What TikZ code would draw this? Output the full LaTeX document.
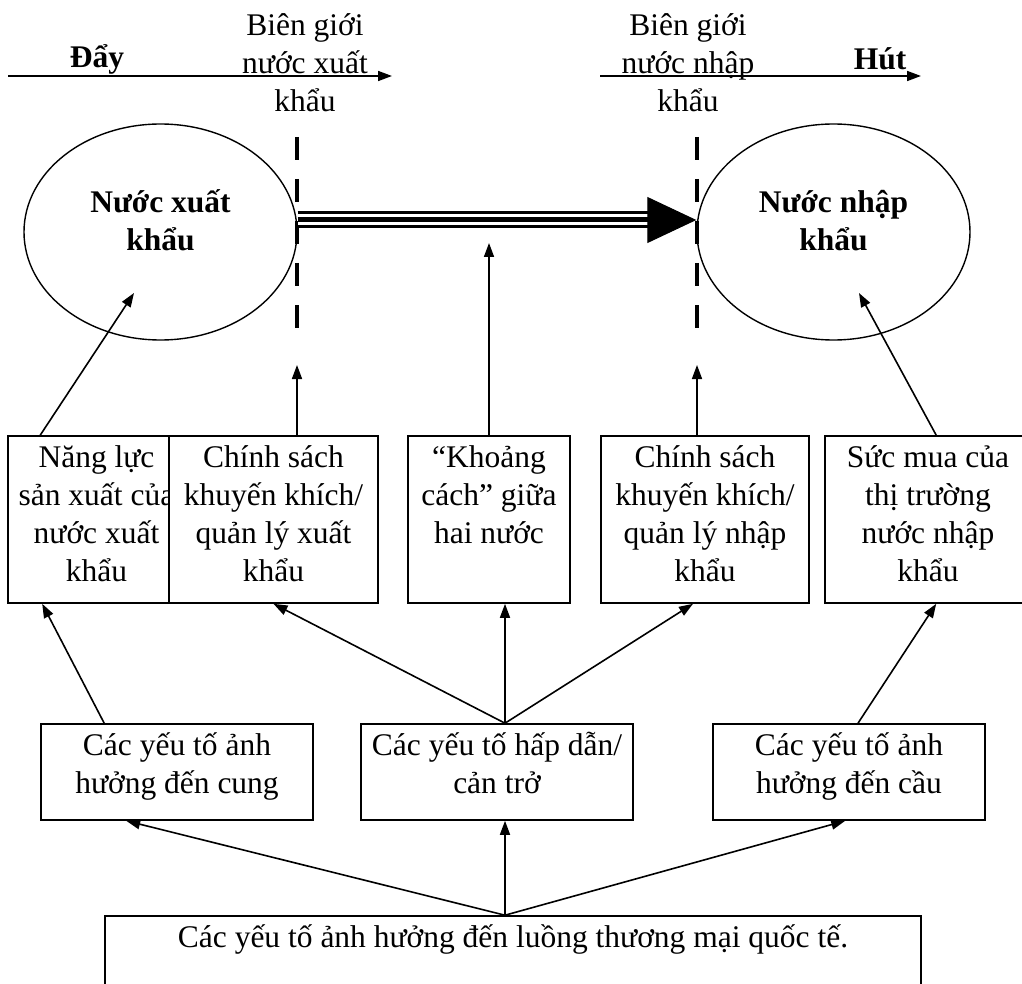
\documentclass[tikz,border=0pt]{standalone}
\usepackage{fontspec}
\setmainfont{Liberation Serif}
\usepackage{tikz}
\usetikzlibrary{positioning,shapes.geometric,arrows.meta,calc}
\newcommand{\cochu}{\fontsize{15.75pt}{19pt}\selectfont}
\newcommand{\noidung}[3]{\parbox[c][#2][t]{#1}{\centering\vspace*{2.4pt}\strut #3}}
\newcommand{\tennuoc}[1]{\raisebox{4pt}[\height][\depth]{\begin{tabular}{@{}c@{}}#1\end{tabular}}}
\tikzstyle{khung} = [rectangle, draw, fill=white, inner sep=0pt, line width=0.8pt]
\tikzstyle{nuoc} = [ellipse, draw, line width=0.7pt, minimum width=136.5pt, minimum height=108pt, font=\cochu\bfseries]
\tikzstyle{bien} = [line width=2pt, dash pattern=on 11.5pt off 9.5pt]
\tikzstyle{ba} = [line width=8.5pt, postaction={draw, line width=5.5pt, white}, postaction={draw, line width=2.5pt, black}]

\begin{document}
\begin{tikzpicture}[->,>={Triangle[length=7pt,width=5pt]},line width=0.8pt,x=0.5pt,y=-0.5pt,every node/.style={font=\cochu}]
  \useasboundingbox (0,0) rectangle (1022,984);

  % day - hut
  \coordinate (day_a) at (8,76);
  \coordinate (day_b) at (392,76);
  \coordinate (hut_a) at (600,76);
  \coordinate (hut_b) at (921,76);
  \node[font=\cochu\bfseries] (Day) at (97,59) {Đẩy};
  \node[font=\cochu\bfseries] (Hut) at (880,59) {Hút};
  \node[align=center] (BG_xk) at (305,63) {Biên giới\\nước xuất\\khẩu};
  \node[align=center] (BG_nk) at (688,63) {Biên giới\\nước nhập\\khẩu};
  \path (day_a) edge (day_b);
  \path (hut_a) edge (hut_b);

  % hai nuoc
  \node[nuoc] (XK) at (160.5,232) {\tennuoc{Nước xuất\\khẩu}};
  \node[nuoc] (NK) at (833.5,232) {\tennuoc{Nước nhập\\khẩu}};

  % bien gioi
  \coordinate (gx_t) at (297,137);
  \coordinate (gx_b) at (297,328);
  \coordinate (gn_t) at (697,137);
  \coordinate (gn_b) at (697,328);
  \draw[-,bien] (gx_t) -- (gx_b);
  \draw[-,bien] (gn_t) -- (gn_b);

  % luong hang
  \draw[-,ba] ([yshift=6pt]XK.east) -- ([xshift=-22pt,yshift=6pt]NK.west);
  \draw[-{Triangle[length=24.5pt,width=23pt]},line width=0.5pt] ([xshift=-24pt,yshift=6pt]NK.west) -- ([yshift=6pt]NK.west);

  % hang 1
  \node[khung] (NL) at (96.5,519.5) {\noidung{88.5pt}{83.5pt}{Năng lực\\sản xuất của\\nước xuất\\khẩu}};
  \node[khung] (CS_xk) at (273.5,519.5) {\noidung{104.5pt}{83.5pt}{Chính sách\\khuyến khích/\\quản lý xuất\\khẩu}};
  \node[khung] (KC) at (489,519.5) {\noidung{81pt}{83.5pt}{“Khoảng\\cách” giữa\\hai nước}};
  \node[khung] (CS_nk) at (705,519.5) {\noidung{104pt}{83.5pt}{Chính sách\\khuyến khích/\\quản lý nhập\\khẩu}};
  \node[khung] (SM) at (928,519.5) {\noidung{103pt}{83.5pt}{Sức mua của\\thị trường\\nước nhập\\khẩu}};

  % hang 2
  \node[khung] (YT_cung) at (177,772) {\noidung{136pt}{48pt}{Các yếu tố ảnh\\hưởng đến cung}};
  \node[khung] (YT_hd) at (497,772) {\noidung{136pt}{48pt}{Các yếu tố hấp dẫn/\\cản trở}};
  \node[khung] (YT_cau) at (849,772) {\noidung{136pt}{48pt}{Các yếu tố ảnh\\hưởng đến cầu}};

  % hang 3
  \node[khung] (YT_lt) at (513,963) {\noidung{408pt}{47pt}{Các yếu tố ảnh hưởng đến luồng thương mại quốc tế.}};

  % hang 1 -> tren
  \coordinate (gx_end) at (297,365);
  \coordinate (gn_end) at (697,365);
  \coordinate (kc_end) at (489,243);
  \path ($(NL.north west)+(33,0)$) edge ($(XK.center)+(-26.5,61)$);
  \path (gx_end |- CS_xk.north) edge (gx_end);
  \path (KC.north) edge (kc_end);
  \path (gn_end |- CS_nk.north) edge (gn_end);
  \path ($(SM.north west)+(112,0)$) edge ($(NK.center)+(25.5,61)$);

  % hang 2 -> hang 1
  \coordinate (hd_top) at ($(YT_hd.north)+(8,0)$);
  \path ($(YT_cung.north west)+(64,0)$) edge ($(NL.south west)+(35,0)$);
  \path (hd_top) edge (CS_xk.south);
  \path (hd_top) edge (hd_top |- KC.south);
  \path (hd_top) edge ($(CS_nk.south)+(-12,0)$);
  \path ($(YT_cau.north)+(9,0)$) edge ($(SM.south west)+(112,0)$);

  % hang 3 -> hang 2
  \coordinate (lt_top) at ($(YT_lt.north)+(-8,0)$);
  \path (lt_top) edge ($(YT_cung.south west)+(86,0)$);
  \path (lt_top) edge (lt_top |- YT_hd.south);
  \path (lt_top) edge ($(YT_cau.south west)+(133,0)$);
\end{tikzpicture}
\end{document}
